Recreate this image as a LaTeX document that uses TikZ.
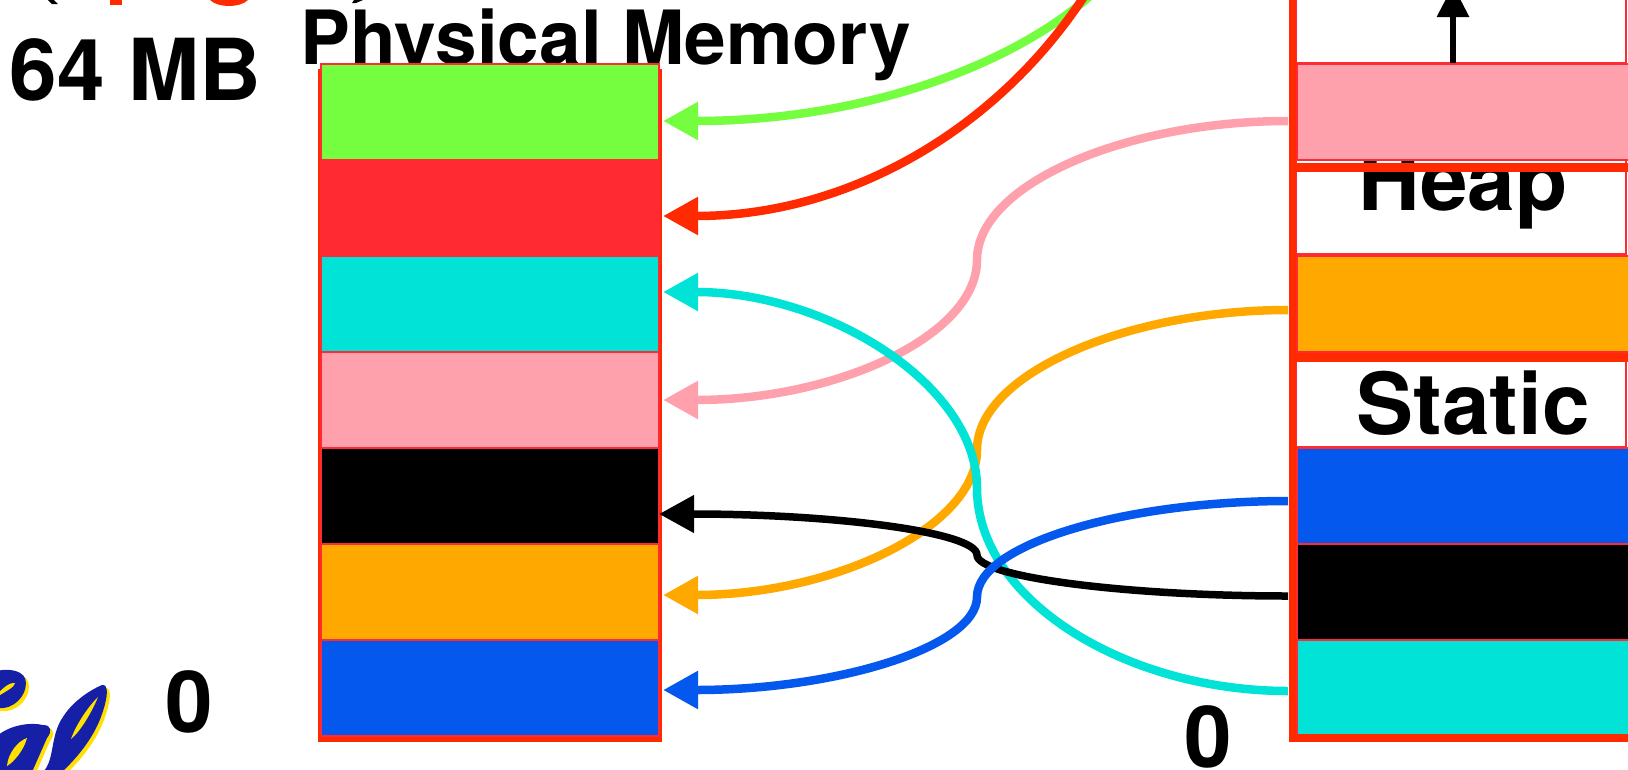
\documentclass[tikz,border=0pt]{standalone}
\usepackage{fontspec}
\setmainfont{TeX Gyre Heros}
\usepackage{xcolor}
\definecolor{framered}{HTML}{FF2A00}
\definecolor{cellred}{HTML}{FF2A32}
\definecolor{memgreen}{HTML}{75FD3F}
\definecolor{memteal}{HTML}{00E3D6}
\definecolor{mempink}{HTML}{FFA0AD}
\definecolor{memorange}{HTML}{FFA800}
\definecolor{memblue}{HTML}{0558EE}
\definecolor{calblue}{HTML}{1520A6}
\definecolor{calgold}{HTML}{FFE000}
\usetikzlibrary{arrows.meta}
\tikzset{
  bigtext/.style={font=\fontsize{85.5}{85.5}\selectfont\bfseries, inner sep=0pt, anchor=base},
  memcell/.style={draw=cellred, line width=2pt, minimum width=338pt, minimum height=96pt, inner sep=0pt, outer xsep=4pt},
  vmcell/.style={memcell, minimum width=343pt, outer xsep=0pt},
  whitecell/.style={draw=cellred, line width=2pt, fill=white, inner sep=0pt, outer sep=0pt, minimum width=330pt},
  maplink/.style={line width=8.5pt, -{Triangle[length=35pt,width=36pt]}, shorten <=9pt},
}
\begin{document}
\begin{tikzpicture}[x=1pt, y=-1pt]

  \useasboundingbox (0,0) rectangle (1628,769);
  \clip (0,0) rectangle (1628,769);

  % bits of the title line, cut by the page
  \fill (48,0) -- (54,0) -- (58,4) -- (52,4) -- cycle;
  \fill (352,3) -- (356,3) -- (363,0) -- (354,0) -- cycle;
  \fill [framered] (110,0) rectangle (122,5);
  \fill [framered] (210,0) .. controls (218,8) and (240,8) .. (248,0) -- cycle;

  % logo
  \begin{scope}[shift={(3,3)}, calgold]
    \fill (-3,671) .. controls (8,668) and (26,670) .. (26,683) .. controls (26,696) and (14,710) .. (-3,708) -- cycle;
    \fill (-3,736) .. controls (10,725) and (30,722) .. (43,725) .. controls (52,725) and (52,732) .. (47,738) -- (32,772) -- (-3,772) -- cycle;
    \fill (43,772) .. controls (55,760) and (50,735) .. (63,717) .. controls (72,702) and (90,690) .. (102,685) .. controls (109,684) and (108,697) .. (102,714) .. controls (95,735) and (80,755) .. (62,772) -- cycle;
  \end{scope}
  \fill [calblue] (-3,671) .. controls (8,668) and (26,670) .. (26,683) .. controls (26,696) and (14,710) .. (-3,708) -- cycle;
  \fill [calgold] (-3,695) .. controls (3,687) and (11,682) .. (15,683) .. controls (15,687) and (6,691) .. (-3,697) -- cycle;
  \fill [calblue] (-3,736) .. controls (10,725) and (30,722) .. (43,725) .. controls (52,725) and (52,732) .. (47,738) -- (32,772) -- (-3,772) -- cycle;
  \fill [calgold] (27,738) .. controls (18,741) and (8,753) .. (7,766) .. controls (14,762) and (24,750) .. (27,738) -- cycle;
  \fill [calblue] (43,772) .. controls (55,760) and (50,735) .. (63,717) .. controls (72,702) and (90,690) .. (102,685) .. controls (109,684) and (108,697) .. (102,714) .. controls (95,735) and (80,755) .. (62,772) -- cycle;
  \fill [calgold] (98,697) .. controls (87,708) and (76,725) .. (71,739) .. controls (80,732) and (92,712) .. (98,697) -- cycle;

  \node [bigtext, font=\fontsize{74.8}{74.8}\selectfont\bfseries] (physlabel) at (606,64) {Physical Memory};
  \node [bigtext] (sizelabel) at (135.5,100) {64 MB};
  \node [bigtext] (physzero) at (189.5,732) {0};
  \node [bigtext] (virtzero) at (1208,767) {0};

  % physical memory
  \fill [framered] (318,69) rectangle (662,742);
  \foreach \cname/\ccol/\cy in {pgreen/memgreen/112, pred/cellred/208, pteal/memteal/304, ppink/mempink/400,
      pblack/black/496, porange/memorange/592, pblue/memblue/688}
    \node [memcell, fill=\ccol] (\cname) at (490,\cy) {};

  % virtual memory
  \node [whitecell, minimum height=113pt] (vtop) at (1460.5,6.5) {};
  \node [whitecell, minimum height=95pt] (vheap) at (1460.5,206.5) {};
  \node [whitecell, minimum height=94pt] (vstatic) at (1460.5,400) {};
  \node [bigtext] (heaplabel) at (1463,210) {Heap};
  \node [bigtext] (staticlabel) at (1473,434) {Static};
  \foreach \cname/\ccol/\cy in {vpink/mempink/112, vorange/memorange/304, vblue/memblue/496,
      vblack/black/592, vteal/memteal/688}
    \node [vmcell, fill=\ccol] (\cname) at (1468.5,\cy) {};

  \coordinate (stackend) at (1453,-15);
  \draw [line width=6pt, -{Triangle[length=32pt,width=31pt]}] (vtop.south -| stackend) -- (stackend);

  % mappings
  \coordinate (greenbend) at (1163,-141);
  \coordinate (redbend) at (1163,-264);
  \coordinate (pinkbend) at (977,260);
  \coordinate (orangebend) at (977,450);
  \coordinate (tealbend) at (977,488);
  \coordinate (blackbend) at (977,555);
  \coordinate (bluebend) at (977,597);

  \draw [maplink, memgreen, shorten <=0pt] (greenbend) .. controls +(0,144) and +(275,0) .. ([yshift=-9pt]pgreen.east);
  \draw [maplink, framered, shorten <=0pt] (redbend) .. controls +(0,264) and +(275,0) .. ([yshift=-8pt]pred.east);

  \draw [maplink, mempink] ([yshift=-9pt]vpink.west) .. controls +(-171,0) and +(0,-76) .. (pinkbend)
    .. controls +(0,76) and +(173,0) .. (ppink.east);
  \draw [maplink, memorange] ([yshift=-6pt]vorange.west) .. controls +(-171,0) and +(0,-76) .. (orangebend)
    .. controls +(0,76) and +(173,0) .. ([yshift=-3pt]porange.east);
  \draw [maplink, memteal] ([yshift=-3pt]vteal.west) .. controls +(-171,0) and +(0,112) .. (tealbend)
    .. controls +(0,-103) and +(165,0) .. ([yshift=12pt]pteal.east);
  \draw [maplink, black, line width=7.5pt] ([yshift=-4pt]vblack.west) .. controls +(-171,0) and +(0,22) .. (blackbend)
    .. controls +(0,-23) and +(175,0) .. ([xshift=-4pt,yshift=-18pt]pblack.east);
  \draw [maplink, memblue] ([yshift=-5pt]vblue.west) .. controls +(-171,0) and +(0,-53) .. (bluebend)
    .. controls +(0,50) and +(173,0) .. ([yshift=-2pt]pblue.east);

  % frame of the virtual stack
  \fill [framered] (1289,-5) rectangle (1296,742);
  \fill [framered] (1289,734) rectangle (1628,742);
  \fill [framered] (1289,163) rectangle (1628,172);
  \fill [framered] (1289,353) rectangle (1628,362);

\end{tikzpicture}
\end{document}
